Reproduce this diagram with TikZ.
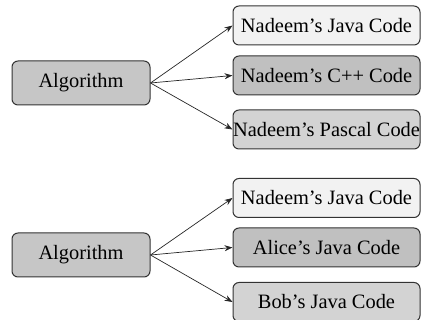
\documentclass[tikz,border=0pt]{standalone}
\usepackage{fontspec}
\setmainfont{Liberation Serif}
\usepackage{xcolor}
\usetikzlibrary{arrows.meta,positioning}

\definecolor{algofill}{HTML}{C6C6C6}
\definecolor{lightfill}{HTML}{F2F2F2}
\definecolor{darkfill}{HTML}{C0C0C0}
\definecolor{midfill}{HTML}{D3D3D3}

\begin{document}
\begin{tikzpicture}[
  font=\fontsize{10.2}{12}\selectfont,
  algo/.style={draw=black!80, rounded corners=3pt, fill=algofill, line width=0.5pt, minimum width=69pt, minimum height=22pt, inner sep=0pt},
  code/.style={draw=black!80, rounded corners=3pt, line width=0.5pt, minimum width=93.5pt, minimum height=19.5pt, inner sep=0pt},
  arrow/.style={-{Stealth[length=4pt,width=3pt]}, line width=0.35pt, black!85}
]
  \useasboundingbox (0,0) rectangle (211.5pt,160pt);

  % one algorithm, three languages
  \node[algo] (a_lang) at (40.5pt,118.5pt) {Algorithm};
  \node[code, fill=lightfill] (l_java) at (163.25pt,147.25pt) {Nadeem's Java Code};
  \node[code, fill=darkfill] (l_cpp) at (163.25pt,122.25pt) {Nadeem's C++ Code};
  \node[code, fill=midfill] (l_pascal) at (163.25pt,95.25pt) {Nadeem's Pascal Code};

  \draw[arrow] (a_lang.east) -- (l_java.west);
  \draw[arrow] (a_lang.east) -- (l_cpp.west);
  \draw[arrow] (a_lang.east) -- (l_pascal.west);

  % one algorithm, three programmers
  \node[algo] (a_prog) at (40.5pt,32.5pt) {Algorithm};
  \node[code, fill=lightfill] (p_nadeem) at (163.25pt,61pt) {Nadeem's Java Code};
  \node[code, fill=darkfill] (p_alice) at (163.25pt,36.25pt) {Alice's Java Code};
  \node[code, fill=midfill] (p_bob) at (163.25pt,9pt) {Bob's Java Code};

  \draw[arrow] (a_prog.east) -- (p_nadeem.west);
  \draw[arrow] (a_prog.east) -- (p_alice.west);
  \draw[arrow] (a_prog.east) -- (p_bob.west);
\end{tikzpicture}
\end{document}
